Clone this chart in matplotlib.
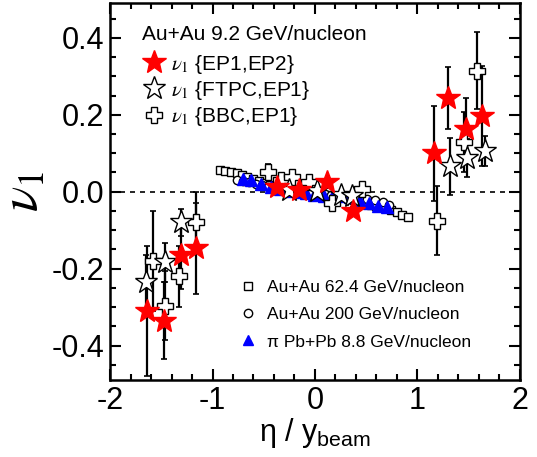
import numpy as np
import matplotlib.pyplot as plt
from matplotlib.font_manager import FontProperties
from matplotlib.ticker import MultipleLocator

plt.rcParams['font.family'] = 'Liberation Sans'
plt.rcParams['mathtext.fontset'] = 'custom'
plt.rcParams['mathtext.rm'] = 'Liberation Sans'

# v1{EP1,EP2}  (red filled stars)
ep12_x = [-1.635, -1.473, -1.31, -1.165, -0.37, -0.155, 0.12, 0.375, 1.162, 1.30, 1.47, 1.631]
ep12_y = [-0.31, -0.335, -0.164, -0.147, 0.013, 0.005, 0.024, -0.049, 0.10, 0.243, 0.164, 0.197]
ep12_e = [0.17, 0.10, 0.09, 0.118, 0.01, 0.01, 0.01, 0.01, 0.123, 0.08, 0.08, 0.13]

# v1{FTPC,EP1}  (open stars)
ftpc_x = [-1.653, -1.466, -1.31, -0.25, 0.02, 0.25, 0.36, 1.32, 1.48, 1.657]
ftpc_y = [-0.234, -0.184, -0.08, 0.005, 0.002, -0.008, -0.012, 0.066, 0.0875, 0.106]
ftpc_e = [0.07, 0.05, 0.035, 0.008, 0.008, 0.008, 0.008, 0.074, 0.05, 0.04]

# v1{BBC,EP1}  (open crosses)
bbc_x = [-1.585, -1.46, -1.33, -1.165, -0.463, -0.33, -0.22, -0.058, 0.168, 0.46, 1.19, 1.453, 1.583]
bbc_y = [-0.179, -0.296, -0.22, -0.08, 0.05, 0.03, 0.037, 0.024, -0.03, 0.007, -0.075, 0.128, 0.314]
bbc_e = [0.13, 0.09, 0.08, 0.08, 0.022, 0.01, 0.01, 0.01, 0.01, 0.01, 0.09, 0.078, 0.10]

# Au+Au 62.4 GeV (open squares)
sq_x = [-0.93, -0.877, -0.82, -0.764, -0.716, -0.66, -0.60, -0.55, -0.49, -0.44, -0.38, -0.33,
        -0.27, -0.22, -0.16, -0.11, -0.05, 0.0, 0.05, 0.11, 0.16, 0.22, 0.27, 0.33, 0.38, 0.44,
        0.49, 0.55, 0.60, 0.686, 0.74, 0.80, 0.854, 0.913]
sq_y = [0.056, 0.054, 0.052, 0.048, 0.043, 0.038, 0.032, 0.027, 0.022, 0.018, 0.014, 0.010,
        0.007, 0.004, 0.002, 0.0, -0.002, -0.004, -0.006, -0.008, -0.010, -0.012, -0.015, -0.018,
        -0.021, -0.025, -0.029, -0.034, -0.037, -0.039, -0.047, -0.054, -0.060, -0.067]

# Au+Au 200 GeV (open circles)
ci_x = [-0.76, -0.70, -0.64, -0.58, -0.52, -0.46, -0.40, -0.34, -0.28, -0.22, -0.16, -0.10, -0.04,
        0.04, 0.10, 0.16, 0.22, 0.28, 0.34, 0.40, 0.46, 0.507, 0.59, 0.66, 0.725]
ci_y = [0.030, 0.027, 0.024, 0.020, 0.017, 0.013, 0.010, 0.008, 0.006, 0.004, 0.002, 0.0, -0.002,
        -0.004, -0.006, -0.008, -0.010, -0.012, -0.014, -0.016, -0.018, -0.019, -0.022, -0.028, -0.035]

# pi Pb+Pb 8.8 GeV (blue triangles)
tri_x = [-0.706, -0.625, -0.527, -0.43, -0.34, -0.25, -0.16, -0.09, -0.01, 0.087, 0.168, 0.265,
         0.347, 0.444, 0.524, 0.612, 0.702]
tri_y = [0.033, 0.031, 0.020, 0.011, 0.006, 0.003, 0.0, -0.004, -0.008, -0.010, -0.014, -0.011,
         -0.015, -0.023, -0.030, -0.036, -0.041]

x_ticks = [-2, -1, 0, 1, 2]
y_ticks = [-0.4, -0.2, 0.0, 0.2, 0.4]
y_tick_labels = ['-0.4', '-0.2', '0.0', '0.2', '0.4']

fig = plt.figure(figsize=(5.37, 4.57), dpi=100)
ax = fig.add_axes([0.205, 0.168, 0.763, 0.825])

ax.axhline(0, color='k', lw=1.2, ls=(0, (3, 3)), zorder=1)

# error bars
for xs, ys, es in [(ep12_x, ep12_y, ep12_e), (ftpc_x, ftpc_y, ftpc_e), (bbc_x, bbc_y, bbc_e)]:
    ax.errorbar(xs, ys, yerr=es, fmt='none', ecolor='k', elinewidth=1.6, capsize=2.5,
                capthick=1.2, zorder=2)

ax.plot(sq_x, sq_y, 's', ms=6, mfc='white', mec='k', mew=1.0, ls='none', zorder=3)
ax.plot(ci_x, ci_y, 'o', ms=6, mfc='white', mec='k', mew=1.0, ls='none', zorder=3)
ax.plot(tri_x, tri_y, '^', ms=8, color='blue', ls='none', zorder=4)
h_bbc, = ax.plot(bbc_x, bbc_y, 'P', ms=12, mfc='white', mec='k', mew=1.0, ls='none', zorder=5)
h_ftpc, = ax.plot(ftpc_x, ftpc_y, '*', ms=17, mfc='white', mec='k', mew=1.0, ls='none', zorder=5)
h_ep, = ax.plot(ep12_x, ep12_y, '*', ms=18, color='red', mec='red', ls='none', zorder=6)

ax.set_xlim(-2, 2)
ax.set_ylim(-0.49, 0.49)
ax.set_xticks(x_ticks)
ax.set_xticklabels([str(v) for v in x_ticks])
ax.set_yticks(y_ticks)
ax.set_yticklabels(y_tick_labels)
ax.xaxis.set_minor_locator(MultipleLocator(0.2))
ax.yaxis.set_minor_locator(MultipleLocator(0.05))
ax.tick_params(which='both', direction='in', top=True, right=True, labelsize=22, width=1.5)
ax.tick_params(which='major', length=8, pad=4)
ax.tick_params(which='minor', length=4)
for s in ax.spines.values():
    s.set_linewidth(1.8)

ax.set_ylabel(r'$\nu_{\mathit{1}}$', fontsize=38, math_fontfamily='stix', labelpad=2)
ax.set_xlabel(r'η / y$_{\mathrm{beam}}$', fontsize=22, labelpad=0)

prop1 = FontProperties(family='Liberation Sans', size=15, math_fontfamily='stix')
leg1 = ax.legend([h_ep, h_ftpc, h_bbc],
                 [r'$\nu_{\mathit{1}}$ {EP1,EP2}', r'$\nu_{\mathit{1}}$ {FTPC,EP1}', r'$\nu_{\mathit{1}}$ {BBC,EP1}'],
                 loc='upper left', bbox_to_anchor=(0.042, 0.98), frameon=False, prop=prop1,
                 title='Au+Au 9.2 GeV/nucleon',
                 title_fontproperties=FontProperties(family='Liberation Sans', size=15),
                 alignment='left', handletextpad=0.2, labelspacing=0.15, handlelength=1.2,
                 borderaxespad=0.3)
leg1._legend_box.sep = 6
ax.add_artist(leg1)

hs = [plt.Line2D([], [], marker='s', ms=6, mfc='white', mec='k', ls='none'),
      plt.Line2D([], [], marker='o', ms=6, mfc='white', mec='k', ls='none'),
      plt.Line2D([], [], marker='^', ms=7, color='blue', ls='none')]
ax.legend(hs, ['Au+Au 62.4 GeV/nucleon', 'Au+Au 200 GeV/nucleon', 'π Pb+Pb 8.8 GeV/nucleon'],
          loc='lower left', bbox_to_anchor=(0.278, 0.04), frameon=False,
          prop=FontProperties(family='Liberation Sans', size=12.5),
          handletextpad=0.6, labelspacing=0.7, handlelength=1.0)

fig.savefig('out.png', dpi=100)
